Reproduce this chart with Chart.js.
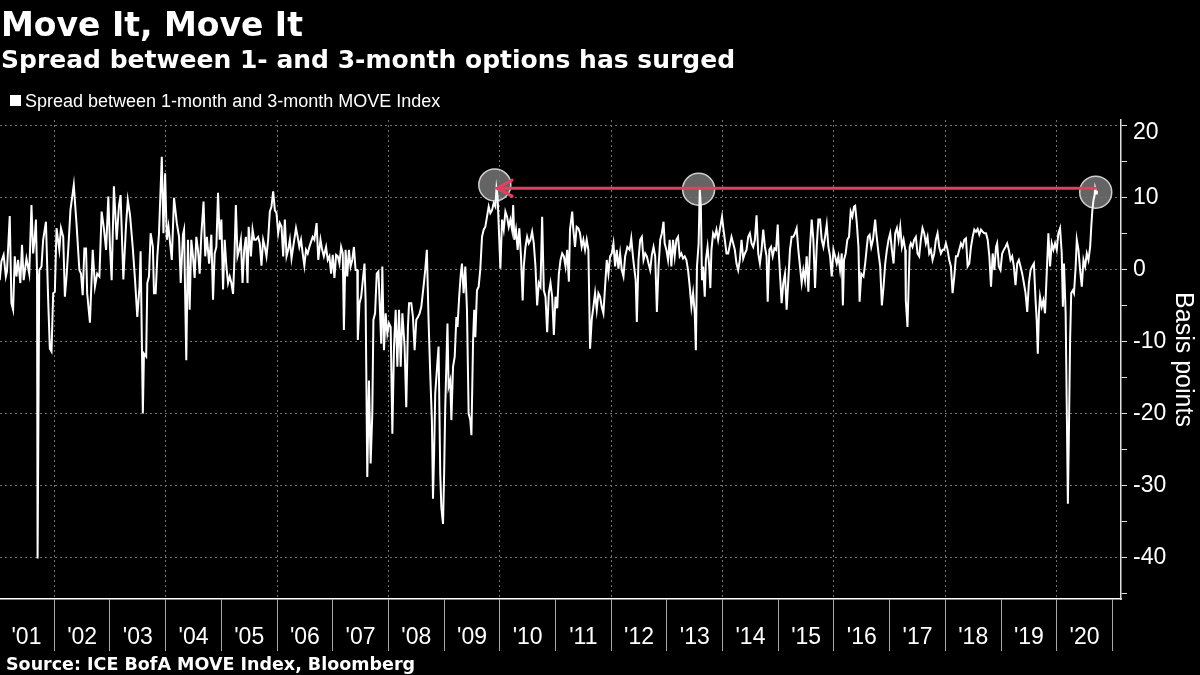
<!DOCTYPE html>
<html>
<head>
<meta charset="utf-8">
<title>Move It, Move It</title>
<script src="https://cdn.jsdelivr.net/npm/chart.js@4.4.1/dist/chart.umd.min.js"></script>
<style>
  html, body { margin: 0; padding: 0; background: #000; }
  canvas { display: block; }
</style>
</head>
<body>
<canvas id="chart" width="1200" height="675"></canvas>
<script>
// samples, x as decimal years (roughly every 2-3 weeks, spikes kept)
var weeks = [
  2001.02,2001.05,2001.09,2001.13,2001.15,2001.20,2001.23,2001.26,2001.29,2001.32,2001.35,2001.39,2001.42,2001.45,2001.50,2001.55,2001.59,2001.62,2001.65,2001.67,2001.69,2001.70,2001.73,2001.77,2001.80,2001.85,2001.89,2001.92,2001.95,2001.98,
  2002.01,2002.04,2002.09,2002.12,2002.16,2002.19,2002.22,2002.25,2002.29,2002.35,2002.40,2002.45,2002.48,2002.51,2002.54,2002.57,2002.59,2002.64,2002.69,2002.73,2002.77,2002.81,2002.85,2002.89,2002.93,2002.97,
  2003.00,2003.03,2003.07,2003.12,2003.16,2003.19,2003.24,2003.29,2003.32,2003.36,2003.41,2003.45,2003.49,2003.53,2003.55,2003.59,2003.61,2003.65,2003.67,2003.70,2003.73,2003.77,2003.79,2003.82,2003.85,2003.88,2003.93,2003.96,2003.99,
  2004.02,2004.05,2004.08,2004.11,2004.15,2004.20,2004.24,2004.27,2004.31,2004.33,2004.37,2004.40,2004.43,2004.46,2004.49,2004.52,2004.55,2004.58,2004.61,2004.64,2004.68,2004.71,2004.74,2004.78,2004.82,2004.85,2004.88,2004.91,2004.94,2004.97,
  2005.00,2005.03,2005.06,2005.09,2005.12,2005.15,2005.18,2005.21,2005.23,2005.26,2005.29,2005.32,2005.35,2005.38,2005.41,2005.44,2005.47,2005.49,2005.53,2005.56,2005.59,2005.62,2005.66,2005.69,2005.72,2005.75,2005.78,2005.81,2005.84,2005.87,2005.90,2005.93,2005.96,2005.99,
  2006.02,2006.05,2006.08,2006.11,2006.14,2006.17,2006.20,2006.23,2006.26,2006.29,2006.34,2006.37,2006.40,2006.43,2006.46,2006.49,2006.52,2006.55,2006.58,2006.61,2006.64,2006.67,2006.71,2006.74,2006.78,2006.81,2006.84,2006.88,2006.91,2006.94,2006.97,
  2007.00,2007.03,2007.06,2007.09,2007.12,2007.15,2007.18,2007.20,2007.23,2007.26,2007.29,2007.32,2007.35,2007.38,2007.41,2007.44,2007.45,2007.48,2007.51,2007.54,2007.57,2007.59,2007.62,2007.65,2007.68,2007.71,2007.73,2007.76,2007.79,2007.82,2007.85,2007.87,2007.89,2007.92,2007.95,2007.98,
  2008.01,2008.04,2008.07,2008.10,2008.13,2008.16,2008.19,2008.22,2008.25,2008.29,2008.32,2008.35,2008.37,2008.41,2008.44,2008.47,2008.50,2008.53,2008.56,2008.59,2008.63,2008.66,2008.69,2008.72,2008.75,2008.78,2008.80,2008.82,2008.84,2008.87,2008.90,2008.93,2008.95,2008.98,
  2009.00,2009.02,2009.06,2009.08,2009.11,2009.13,2009.16,2009.19,2009.22,2009.24,2009.27,2009.30,2009.32,2009.35,2009.38,2009.41,2009.44,2009.47,2009.49,2009.52,2009.54,2009.56,2009.59,2009.62,2009.65,2009.68,2009.71,2009.74,2009.77,2009.80,2009.83,2009.86,2009.89,2009.92,2009.94,2009.96,2009.99,
  2010.01,2010.04,2010.07,2010.10,2010.13,2010.16,2010.19,2010.22,2010.24,2010.26,2010.29,2010.32,2010.35,2010.38,2010.41,2010.43,2010.46,2010.49,2010.52,2010.55,2010.58,2010.61,2010.64,2010.67,2010.70,2010.73,2010.76,2010.79,2010.82,2010.85,2010.88,2010.91,2010.94,2010.97,
  2011.00,2011.03,2011.06,2011.09,2011.12,2011.15,2011.18,2011.21,2011.24,2011.26,2011.30,2011.32,2011.35,2011.38,2011.41,2011.44,2011.47,2011.50,2011.53,2011.56,2011.59,2011.62,2011.65,2011.68,2011.71,2011.74,2011.77,2011.80,2011.83,2011.86,2011.89,2011.92,2011.95,2011.98,
  2012.01,2012.04,2012.07,2012.10,2012.13,2012.16,2012.19,2012.22,2012.25,2012.29,2012.33,2012.36,2012.39,2012.41,2012.44,2012.46,2012.49,2012.52,2012.55,2012.58,2012.61,2012.64,2012.67,2012.70,2012.73,2012.76,2012.79,2012.82,2012.85,2012.88,2012.91,2012.94,2012.96,2012.99,
  2013.02,2013.05,2013.08,2013.11,2013.14,2013.17,2013.20,2013.23,2013.26,2013.29,2013.32,2013.35,2013.38,2013.41,2013.44,2013.47,2013.50,2013.52,2013.54,2013.57,2013.59,2013.61,2013.63,2013.65,2013.68,2013.70,2013.73,2013.76,2013.78,2013.80,2013.83,2013.86,2013.89,2013.92,2013.95,2013.99,
  2014.01,2014.04,2014.07,2014.10,2014.16,2014.19,2014.22,2014.25,2014.28,2014.31,2014.34,2014.37,2014.40,2014.43,2014.46,2014.49,2014.52,2014.55,2014.58,2014.61,2014.64,2014.67,2014.70,2014.73,2014.76,2014.79,2014.81,2014.84,2014.87,2014.90,2014.93,2014.96,2014.99,
  2015.01,2015.03,2015.06,2015.09,2015.12,2015.15,2015.18,2015.21,2015.24,2015.27,2015.30,2015.33,2015.36,2015.39,2015.42,2015.45,2015.48,2015.51,2015.54,2015.57,2015.60,2015.63,2015.66,2015.69,2015.72,2015.75,2015.78,2015.81,2015.84,2015.87,2015.90,2015.93,2015.96,2015.99,
  2016.02,2016.05,2016.08,2016.11,2016.14,2016.16,2016.18,2016.21,2016.24,2016.27,2016.30,2016.33,2016.36,2016.38,2016.41,2016.44,2016.46,2016.49,2016.53,2016.56,2016.59,2016.61,2016.64,2016.67,2016.70,2016.74,2016.76,2016.80,2016.83,2016.86,2016.89,2016.92,2016.95,2016.98,
  2017.01,2017.04,2017.07,2017.10,2017.13,2017.16,2017.19,2017.22,2017.25,2017.28,2017.29,2017.32,2017.36,2017.38,2017.41,2017.44,2017.47,2017.50,2017.53,2017.56,2017.59,2017.62,2017.65,2017.68,2017.71,2017.74,2017.77,2017.80,2017.83,2017.86,2017.89,2017.92,2017.95,2017.98,
  2018.01,2018.04,2018.07,2018.10,2018.13,2018.16,2018.19,2018.22,2018.25,2018.28,2018.31,2018.34,2018.37,2018.40,2018.43,2018.46,2018.49,2018.52,2018.55,2018.58,2018.61,2018.64,2018.67,2018.70,2018.73,2018.76,2018.79,2018.82,2018.85,2018.88,2018.91,2018.93,2018.96,2018.99,
  2019.02,2019.05,2019.08,2019.11,2019.14,2019.17,2019.20,2019.23,2019.26,2019.29,2019.32,2019.35,2019.38,2019.41,2019.44,2019.47,2019.50,2019.53,2019.56,2019.59,2019.62,2019.64,2019.66,2019.68,2019.70,2019.73,2019.76,2019.79,2019.82,2019.85,2019.88,2019.91,2019.94,2019.97,
  2020.00,2020.03,2020.06,2020.09,2020.11,2020.13,2020.16,2020.18,2020.20,2020.22,2020.24,2020.26,2020.29,2020.31,2020.34,2020.36,2020.39,2020.42,2020.45,2020.48,2020.51,2020.54,2020.57,2020.60,2020.62,2020.64,2020.66,2020.68,2020.69,2020.71,2020.72
];

// spread between 1-month and 3-month MOVE, basis points
var spread = [
  -1.5,1.1,2.0,-1.0,-0.3,7.4,-4.7,-5.6,1.8,-1.0,1.3,-1.9,3.4,-1.5,1.5,-0.6,8.9,2.2,4.5,6.9,-0.6,-40.1,-0.1,0.4,4.1,6.6,-4.3,-11.0,-11.4,-3.3,
  -3.1,5.7,2.7,5.7,4.5,-3.8,-1.0,2.7,8.2,11.7,6.2,-0.1,-0.6,-3.6,2.9,2.9,-3.3,-7.4,2.7,-2.4,-0.6,-1.0,8.0,5.7,2.7,10.1,
  3.1,-1.5,11.5,4.1,8.7,10.3,-1.4,6.4,9.6,7.5,2.9,-1.5,-6.6,-2.4,2.5,-20.0,-11.7,-12.1,-1.9,-1.0,5.0,3.1,-3.3,-3.3,1.8,5.0,15.6,5.0,13.3,
  4.1,5.9,3.6,1.3,9.9,6.4,4.5,-1.9,4.8,5.5,-12.6,4.1,-5.6,4.1,1.8,-1.2,4.5,2.7,-0.6,4.8,9.4,1.8,4.5,0.8,4.8,-4.2,2.2,3.1,10.6,4.1,
  6.9,-2.8,4.1,0.4,-1.9,-1.0,-1.9,-3.4,0.4,8.9,1.8,2.7,4.1,-1.9,2.7,4.5,-1.9,5.9,1.8,5.5,4.1,4.1,4.5,3.6,0.5,4.1,3.1,1.8,4.1,8.0,8.7,10.8,8.2,7.8,
  5.0,6.4,5.9,1.8,6.9,1.8,2.7,4.1,1.5,3.1,5.7,4.5,3.1,4.1,2.2,0.5,2.7,2.2,3.1,3.8,4.5,4.1,6.4,1.3,4.1,2.7,1.8,3.1,1.3,1.8,-0.6,
  2.0,-1.2,2.0,1.8,0.8,3.1,2.2,-8.4,2.7,-1.0,2.7,0.4,1.3,3.1,-0.1,-0.1,-9.8,-4.7,-3.8,-1.5,0.8,-4.3,-28.8,-15.4,-26.9,-20.0,-7.0,-6.1,-0.6,-0.3,-6.1,-10.3,0.4,-11.2,-6.1,-8.9,
  -7.5,-8.0,-22.8,-10.7,-5.6,-13.5,-5.6,-13.5,-6.1,-10.7,-19.1,-8.0,-4.7,-4.7,-6.6,-11.2,-7.0,-6.6,-6.1,-5.2,-2.4,-0.1,2.7,-7.0,-14.4,-20.9,-31.8,-25.6,-17.2,-13.9,-10.7,-28.3,-33.0,-35.3,
  -28.3,-19.1,-7.5,-16.3,-15.4,-20.9,-13.5,-12.1,-6.6,-8.0,-3.8,-0.6,0.8,-3.3,0.4,-5.6,-20.0,-20.9,-23.0,-9.8,-5.6,-9.4,-2.9,-2.4,0.1,4.5,5.5,5.9,7.3,8.7,7.8,8.2,9.2,8.7,11.2,10.1,4.1,
  0.1,6.9,5.5,8.0,7.3,5.9,6.9,5.5,8.9,4.1,5.5,2.7,5.7,1.8,-4.3,0.4,3.1,4.5,3.6,4.1,5.2,3.6,0.4,-5.0,-1.9,-2.4,7.3,-2.9,-3.8,-8.7,-3.3,-1.9,-3.8,-9.1,
  -3.8,-5.4,-0.6,1.3,2.2,1.8,0.4,2.7,-1.7,5.5,8.0,5.5,3.1,5.9,5.7,5.0,3.1,4.1,2.7,4.1,2.7,-11.0,-7.0,-5.2,-3.3,-5.6,-3.3,-3.8,-5.2,-6.1,-2.4,1.3,-0.6,1.8,
  2.2,3.6,0.4,2.7,0.1,2.2,-0.1,-1.0,1.8,3.1,2.7,4.3,1.8,0.4,-1.5,-7.3,1.3,4.1,4.5,1.3,2.2,1.8,0.8,-0.1,2.0,3.1,1.8,-5.9,0.4,4.1,5.0,6.6,3.6,2.7,
  1.3,4.1,0.4,4.1,1.8,4.1,4.5,1.8,2.2,1.5,1.8,1.3,-0.1,-2.4,-5.2,-3.3,-6.1,-11.2,0.4,3.6,11.1,8.7,-1.5,0.4,-3.8,1.3,3.1,0.4,-2.6,2.7,5.0,4.5,5.5,4.1,5.5,7.3,
  5.9,4.1,2.2,2.2,4.5,3.6,2.7,0.8,-0.1,1.3,4.1,1.5,2.2,2.7,4.5,5.0,3.6,3.1,4.1,7.5,2.2,0.8,2.7,5.5,3.1,1.8,-4.5,2.7,3.1,1.8,2.9,2.7,6.2,
  2.2,-0.6,-4.7,-1.9,-0.6,-5.6,-1.5,2.7,4.5,4.5,5.0,5.7,2.7,0.4,-1.9,-0.1,-1.5,1.8,-3.1,3.1,6.9,4.1,-2.6,3.1,6.9,6.9,4.1,3.1,4.5,6.2,3.1,1.8,-1.0,2.7,
  1.8,0.8,1.8,-0.1,2.2,-5.0,1.3,2.2,4.1,4.5,8.0,7.3,8.7,8.8,6.4,3.1,-4.5,-0.6,-1.0,0.8,3.1,4.5,4.8,3.1,4.1,6.9,5.0,2.2,0.4,-5.0,-2.4,0.8,2.7,4.1,
  5.0,2.7,0.8,5.0,5.7,4.1,5.9,3.1,4.1,2.7,-4.3,-8.0,3.1,3.6,3.1,4.1,4.5,2.2,1.8,4.1,5.7,5.0,3.6,4.5,2.2,2.7,1.3,2.2,4.1,5.0,3.1,2.2,2.7,2.7,
  3.6,2.7,1.3,0.4,-3.3,-1.0,1.8,1.8,2.7,3.6,3.1,4.1,4.3,0.4,0.8,3.1,4.5,5.5,5.2,5.6,4.8,5.5,5.2,5.0,5.0,4.1,1.8,-2.4,2.2,-0.1,3.1,3.6,0.4,-0.1,
  2.2,2.7,3.1,3.6,2.7,1.3,1.8,0.4,-2.2,0.8,1.3,0.4,-0.6,-1.9,-3.3,-5.9,-1.9,-0.1,0.4,0.8,-4.3,-7.0,-11.7,-6.1,-3.8,-5.2,-4.3,-6.1,-0.6,5.0,0.4,3.6,2.7,3.6,
  2.7,5.0,5.7,2.2,-5.2,0.8,-6.1,-19.1,-32.5,-21.8,-9.8,-3.3,-2.9,-3.3,0.4,4.1,2.7,-0.1,-2.4,1.3,0.4,2.2,1.3,3.1,5.9,8.2,9.6,10.3,11.2,10.5,10.9
];

// year boundaries get the tick marks, labels sit in the middle of each year
var yearTicks = [];
for (var yr = 2002; yr <= 2021; yr++) yearTicks.push(yr);
var valueTicks = [];
for (var v = -45; v <= 20; v += 5) valueTicks.push(v);

// the three circled peaks and the red line tying them together
var peakWeeks = [2009.91, 2013.57, 2020.70];
var peakValues = [11.7, 11.1, 10.7];
var arrowFrom = 2020.69;
var arrowTo = 2009.95;
var arrowLevel = 11.25;

var xMin = 2001.025;
var xMax = 2021.154;

if (weeks.length !== spread.length) console.log('length mismatch', weeks.length, spread.length);

var points = weeks.map(function (w, i) { return { x: w, y: spread[i] }; });

var grey = '#707070';
var clear = 'rgba(0,0,0,0)';

var headerPlugin = {
  id: 'header',
  beforeDraw: function (chart) {
    var ctx = chart.ctx;
    ctx.save();
    ctx.fillStyle = '#000';
    ctx.fillRect(0, 0, chart.width, chart.height);
    ctx.fillStyle = '#fff';
    ctx.textAlign = 'left';
    ctx.textBaseline = 'alphabetic';
    ctx.font = 'bold 33px "DejaVu Sans"';
    ctx.fillText('Move It, Move It', 1, 36);
    ctx.font = 'bold 25px "DejaVu Sans"';
    ctx.fillText('Spread between 1- and 3-month options has surged', 1, 68);
    ctx.fillRect(10, 95, 11, 11);
    ctx.font = '18px "Liberation Sans"';
    ctx.fillText('Spread between 1-month and 3-month MOVE Index', 25, 107);
    ctx.font = 'bold 17.5px "DejaVu Sans"';
    ctx.fillText('Source: ICE BofA MOVE Index, Bloomberg', 6, 670);
    ctx.restore();
  }
};

var peaksPlugin = {
  id: 'peaks',
  beforeDatasetsDraw: function (chart) {
    var ctx = chart.ctx, xs = chart.scales.x, ys = chart.scales.y;
    ctx.save();
    for (var i = 0; i < peakWeeks.length; i++) {
      ctx.beginPath();
      ctx.arc(xs.getPixelForValue(peakWeeks[i]), ys.getPixelForValue(peakValues[i]), 16, 0, Math.PI * 2);
      ctx.fillStyle = 'rgba(118,118,118,0.85)';
      ctx.fill();
      ctx.lineWidth = 1.5;
      ctx.strokeStyle = '#cfcfcf';
      ctx.stroke();
    }
    ctx.restore();
  },
  afterDatasetsDraw: function (chart) {
    var ctx = chart.ctx, xs = chart.scales.x, ys = chart.scales.y;
    var x1 = xs.getPixelForValue(arrowFrom);
    var x2 = xs.getPixelForValue(arrowTo);
    var y = ys.getPixelForValue(arrowLevel);
    ctx.save();
    ctx.strokeStyle = '#e2405e';
    ctx.lineWidth = 3;
    ctx.lineCap = 'round';
    ctx.beginPath();
    ctx.moveTo(x1, y);
    ctx.lineTo(x2, y);
    ctx.moveTo(x2 + 15, y - 8);
    ctx.lineTo(x2, y);
    ctx.lineTo(x2 + 15, y + 8);
    ctx.stroke();
    ctx.restore();
  }
};

var halfYear = 1121 / (xMax - xMin) / 2;

var config = {
  type: 'line',
  data: {
    datasets: [{
      label: 'Spread between 1-month and 3-month MOVE Index',
      data: points,
      borderColor: '#fff',
      backgroundColor: '#fff',
      borderWidth: 2,
      pointRadius: 0,
      tension: 0,
      fill: false
    }]
  },
  options: {
    responsive: false,
    animation: false,
    devicePixelRatio: 1,
    layout: { padding: { top: 120, left: 0, right: 0, bottom: 0 } },
    plugins: {
      legend: { display: false },
      tooltip: { enabled: false }
    },
    scales: {
      x: {
        type: 'linear',
        position: 'bottom',
        min: xMin,
        max: xMax,
        afterBuildTicks: function (s) {
          s.ticks = yearTicks.map(function (t) { return { value: t }; });
        },
        afterFit: function (s) { s.height = 76; },
        ticks: {
          autoSkip: false,
          maxRotation: 0,
          minRotation: 0,
          color: '#fff',
          font: { family: 'Liberation Sans', size: 23 },
          padding: -27,
          labelOffset: -halfYear,
          callback: function (val) { return "'" + String(val - 1).slice(2); }
        },
        grid: {
          color: function (c) { return c.tick && c.tick.value % 2 === 0 ? grey : clear; },
          lineWidth: 1,
          tickColor: '#a8a8a8',
          tickLength: 52,
          tickBorderDash: []
        },
        border: { color: '#fff', width: 1.5, dash: [2, 3] }
      },
      y: {
        position: 'right',
        min: -45.7,
        max: 20.7,
        afterBuildTicks: function (s) {
          s.ticks = valueTicks.map(function (t) { return { value: t }; });
        },
        afterFit: function (s) { s.width = 79; },
        ticks: {
          color: '#fff',
          // top label is nudged down a little so it stays inside the frame
          font: function (c) {
            return c.tick && c.tick.value === 20
              ? { family: 'Liberation Sans', size: 23, lineHeight: 0.7 }
              : { family: 'Liberation Sans', size: 23 };
          },
          padding: 6,
          callback: function (val) {
            if (val === 20) return ['', '20'];
            return val % 10 === 0 ? String(val) : '';
          }
        },
        grid: {
          color: function (c) { return c.tick && c.tick.value % 10 === 0 ? grey : clear; },
          lineWidth: 1,
          tickColor: '#e0e0e0',
          tickLength: 6,
          tickBorderDash: []
        },
        border: { color: '#e0e0e0', width: 1.5, dash: [2, 3] },
        title: {
          display: true,
          text: 'Basis points',
          color: '#fff',
          font: { family: 'Liberation Sans', size: 25 },
          padding: 2
        }
      }
    }
  },
  plugins: [headerPlugin, peaksPlugin]
};

var chart = new Chart(document.getElementById('chart').getContext('2d'), config);
</script>
</body>
</html>
